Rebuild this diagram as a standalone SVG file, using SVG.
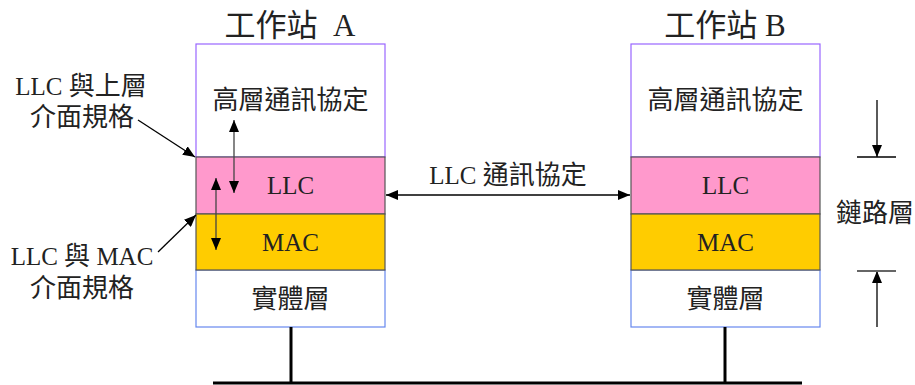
<svg xmlns="http://www.w3.org/2000/svg" width="915" height="385" viewBox="0 0 915 385">
<defs>
<style>
text{font-family:"Liberation Serif","Noto Sans CJK TC",serif;fill:#222;font-size:25px;text-anchor:middle;dominant-baseline:central}
.c{font-size:26px}
.t{font-size:31px}
.hi{fill:#fff;stroke:#9966ff;stroke-width:1.2}
.llc{fill:#ff99cc;stroke:#555;stroke-width:1.2}
.mac{fill:#ffcc00;stroke:#555;stroke-width:1.2}
.ph{fill:#fff;stroke:#6688ee;stroke-width:1.2}
.ln{stroke:#000;stroke-width:1.3;fill:none}
.gl{stroke:#444;stroke-width:1.3;fill:none}
.bus{stroke:#000;stroke-width:3;fill:none}
</style>
<marker id="ah" viewBox="0 0 12 10" refX="12" refY="5" markerWidth="12" markerHeight="10" markerUnits="userSpaceOnUse" orient="auto-start-reverse">
<path d="M0,0 L12,5 L0,10 z" fill="#000"/>
</marker>
</defs>
<g id="stationA">
<text class="t" x="290" y="25">工作站&#160; A</text>
<rect class="hi" x="196" y="44" width="189" height="113"/>
<rect class="ph" x="196" y="270" width="189" height="57"/>
<rect class="llc" x="196" y="157" width="189" height="57"/>
<rect class="mac" x="196" y="214" width="189" height="56"/>
<text class="c" x="290.5" y="100">高層通訊協定</text>
<text x="290.5" y="185">LLC</text>
<text x="290.5" y="242">MAC</text>
<text class="c" x="290.5" y="299">實體層</text>
</g>
<g id="stationB">
<text class="t" x="725" y="25">工作站 B</text>
<rect class="hi" x="631" y="44" width="189" height="113"/>
<rect class="ph" x="631" y="270" width="189" height="57"/>
<rect class="llc" x="631" y="157" width="189" height="57"/>
<rect class="mac" x="631" y="214" width="189" height="56"/>
<text class="c" x="725.5" y="100">高層通訊協定</text>
<text x="725.5" y="185">LLC</text>
<text x="725.5" y="242">MAC</text>
<text class="c" x="725.5" y="299">實體層</text>
</g>
<g id="labels">
<text x="81" y="86">LLC <tspan class="c">與上層</tspan></text>
<text class="c" x="82" y="117">介面規格</text>
<text x="82" y="256">LLC <tspan class="c">與</tspan> MAC</text>
<text class="c" x="82" y="288">介面規格</text>
<text x="508" y="175">LLC <tspan class="c">通訊協定</tspan></text>
<text class="c" x="875" y="213">鏈路層</text>
</g>
<g id="connectors">
<line class="ln" x1="138" y1="120" x2="195" y2="157" marker-end="url(#ah)"/>
<line class="ln" x1="158" y1="252" x2="196" y2="215" marker-end="url(#ah)"/>
<line class="gl" x1="234" y1="120" x2="234" y2="193" marker-start="url(#ah)" marker-end="url(#ah)"/>
<line class="gl" x1="216" y1="178" x2="216" y2="250" marker-start="url(#ah)" marker-end="url(#ah)"/>
<line class="ln" x1="386" y1="195" x2="630" y2="195" marker-start="url(#ah)" marker-end="url(#ah)"/>
<line class="ln" x1="877" y1="100" x2="877" y2="157" marker-end="url(#ah)"/>
<line class="ln" x1="857" y1="157" x2="896" y2="157"/>
<line class="ln" x1="877" y1="327" x2="877" y2="271" marker-end="url(#ah)"/>
<line class="gl" x1="857" y1="271" x2="896" y2="271" style="stroke:#666;stroke-width:2"/>
<line class="bus" x1="291" y1="327" x2="291" y2="383"/>
<line class="bus" x1="725" y1="327" x2="725" y2="383"/>
<line class="bus" x1="213" y1="383" x2="802" y2="383"/>
</g>
</svg>
